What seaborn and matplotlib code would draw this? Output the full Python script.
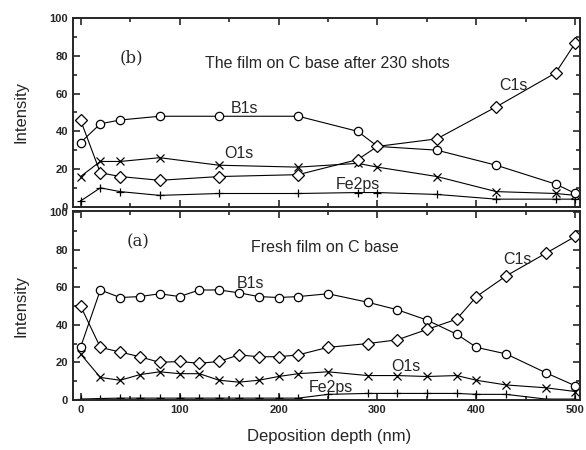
import matplotlib
matplotlib.use("Agg")
import matplotlib.pyplot as plt
import seaborn as sns
import pandas as pd
from matplotlib.ticker import MultipleLocator

# (b) film on C base after 230 shots
depth_b = [0, 20, 40, 80, 140, 220, 280, 300, 360, 420, 480, 500]
b1s_b = [34, 44, 46, 48, 48, 48, 40, 32, 30, 22, 12, 7]
c1s_b = [46, 18, 16, 14, 16, 17, 25, 32, 36, 53, 71, 87]
o1s_b = [16, 24, 24, 26, 22, 21, 23, 21, 16, 8, 7, 6]
fe_b = [3, 10, 8, 6, 7, 7, 7.5, 7.5, 6.5, 4, 4, 4]

# (a) fresh film on C base
depth_a = [0, 20, 40, 60, 80, 100, 120, 140, 160, 180, 200, 220,
           250, 290, 320, 350, 380, 400, 430, 470, 500]
b1s_a = [28, 58.5, 54.5, 55, 56.5, 55, 58.5, 58.5, 57, 55, 54.5, 55,
         56.5, 52, 48, 42.5, 35, 28, 24.5, 14.5, 7.5]
c1s_a = [50, 28, 25.5, 23, 20, 20.5, 19.5, 20.5, 24, 23, 23, 24,
         28, 30, 32, 37.5, 43, 55, 66, 78, 87]
o1s_a = [24.5, 12, 10.5, 13.5, 15, 14, 14, 10.5, 9.5, 10.5, 12.5, 14,
         15, 13, 13, 12.5, 13, 10.5, 8, 6.5, 4.5]
fe_a = [0.5, 0.8, 1, 1, 1, 1, 1, 1, 1, 1, 1, 1,
        3, 3.5, 3.5, 3.5, 3.5, 3, 3, 0.5, 0.5]

sns.set_style("ticks")
plt.rcParams['font.family'] = ['Liberation Sans', 'DejaVu Sans']

fig = plt.figure(figsize=(5.86, 4.5), dpi=100)
ax_b = fig.add_axes([0.1246, 0.5407, 0.865, 0.4187])
ax_a = fig.add_axes([0.1246, 0.1111, 0.865, 0.4200])

# marker styles for each element
styles = {
    'B1s': dict(marker='o', markersize=6, markerfacecolor='white', markeredgewidth=0.9),
    'C1s': dict(marker='D', markersize=6, markerfacecolor='white', markeredgewidth=0.9),
    'O1s': dict(marker='x', markersize=6, markeredgewidth=0.9),
    'Fe2ps': dict(marker='+', markersize=6, markeredgewidth=0.9),
}


def draw(ax, depth, series):
    for name, vals in series.items():
        df = pd.DataFrame({'depth': depth, 'val': vals})
        sns.lineplot(data=df, x='depth', y='val', ax=ax, color='black',
                     linewidth=0.8, markeredgecolor='black', **styles[name])


draw(ax_b, depth_b, {'Fe2ps': fe_b, 'O1s': o1s_b, 'B1s': b1s_b, 'C1s': c1s_b})
draw(ax_a, depth_a, {'Fe2ps': fe_a, 'O1s': o1s_a, 'B1s': b1s_a, 'C1s': c1s_a})

for ax, ytop in [(ax_b, 100), (ax_a, 100.5)]:
    ax.set_xlim(-7.6, 504.5)
    ax.set_ylim(0, ytop)
    ax.xaxis.set_major_locator(MultipleLocator(100))
    ax.xaxis.set_minor_locator(MultipleLocator(50))
    ax.yaxis.set_major_locator(MultipleLocator(20))
    ax.yaxis.set_minor_locator(MultipleLocator(10))
    ax.tick_params(which='both', direction='in', top=True, right=True,
                   width=1.2, labelsize=8)
    ax.tick_params(which='major', length=5)
    ax.tick_params(which='minor', length=3)
    for sp in ax.spines.values():
        sp.set_linewidth(1.4)
    for lab in ax.get_xticklabels() + ax.get_yticklabels():
        lab.set_fontweight('bold')
    ax.set_xlabel('')
    ax.set_ylabel('Intensity', fontsize=12)
    ax.yaxis.set_label_coords(-0.088, 0.5)

ax_b.tick_params(labelbottom=False)
ax_a.set_yticks([0, 20, 40, 60, 80, 100])

# panel annotations
txt = dict(fontsize=11.5, ha='center', va='center')
ax_b.text(51, 79, '(b)', family='DejaVu Serif', fontsize=12, ha='center', va='center')
ax_b.text(249, 76, 'The film on C base after 230 shots', **txt)
ax_b.text(166, 52, 'B1s', **txt)
ax_b.text(160, 28, 'O1s', **txt)
ax_b.text(280, 12, 'Fe2ps', **txt)
ax_b.text(437, 64.5, 'C1s', **txt)

ax_a.text(58, 84, '(a)', family='DejaVu Serif', fontsize=12, ha='center', va='center')
ax_a.text(247, 81, 'Fresh film on C base', **txt)
ax_a.text(172, 62, 'B1s', **txt)
ax_a.text(329, 17.7, 'O1s', **txt)
ax_a.text(253, 6.4, 'Fe2ps', **txt)
ax_a.text(441, 74.5, 'C1s', **txt)

fig.text(329 / 586, 1 - 437 / 450, 'Deposition depth (nm)', fontsize=12,
         ha='center', va='center')

fig.savefig('out.png', dpi=100)
